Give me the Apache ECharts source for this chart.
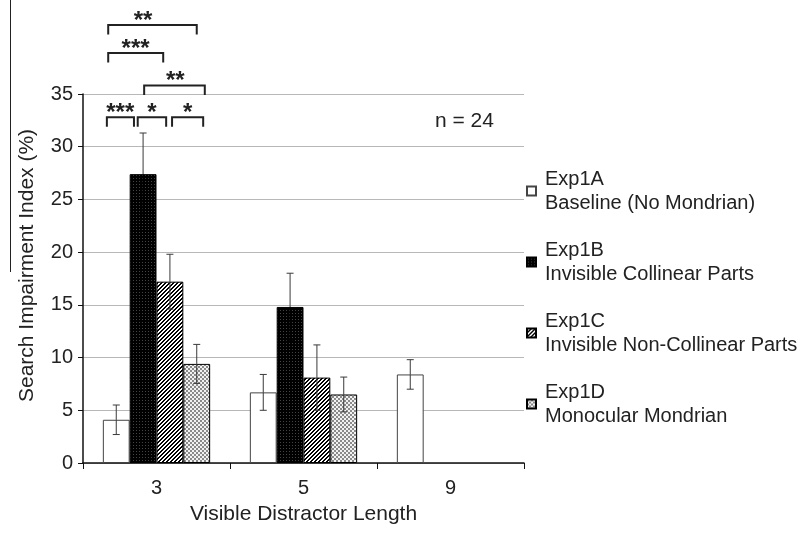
<!DOCTYPE html>
<html>
<head>
<meta charset="utf-8">
<script src="https://cdn.jsdelivr.net/npm/echarts@6/dist/echarts.min.js"></script>
<style>
  html, body { margin: 0; padding: 0; background: #fff; }
  #chart { width: 809px; height: 533px; }
</style>
</head>
<body>
<div id="chart"></div>
<script>
// ---- data ----
const categories = ['3', '5', '9'];
const seriesNames = ['Exp1A', 'Exp1B', 'Exp1C', 'Exp1D'];
const seriesDescriptions = ['Baseline (No Mondrian)', 'Invisible Collinear Parts', 'Invisible Non-Collinear Parts', 'Monocular Mondrian'];
const exp1A = [4.1, 6.7, 8.4];
const exp1B = [27.4, 14.8, null];
const exp1C = [17.2, 8.1, null];
const exp1D = [9.4, 6.5, null];
const errA = [1.4, 1.7, 1.4];
const errB = [3.9, 3.2, null];
const errC = [2.6, 3.1, null];
const errD = [1.85, 1.65, null];
const yTicks = [0, 5, 10, 15, 20, 25, 30, 35];
const sampleNote = 'n = 24';
// significance brackets (all within category "3")
const sigStars = ['***', '*', '*', '**', '***', '**'];
const sigLevel = [32.8, 32.8, 32.8, 35.8, 38.9, 41.55];
// bracket ends / label, in bar-slot units (0 = first bar centre)
const sigLeft  = [-0.35, 0.8, 2.08, 1.04, -0.3, -0.3];
const sigRight = [0.66, 1.86, 3.24, 3.3, 1.75, 3.0];
const sigLabel = [0.15, 1.33, 2.66, 2.2, 0.72, 1.0];

// ---- patterns ----
function makePattern(size, draw) {
  const c = document.createElement('canvas');
  c.width = size; c.height = size;
  const ctx = c.getContext('2d');
  draw(ctx, size);
  return { image: c, repeat: 'repeat' };
}
const dotPattern = makePattern(3, (ctx) => {
  ctx.fillStyle = '#000'; ctx.fillRect(0, 0, 3, 3);
  ctx.fillStyle = '#444'; ctx.fillRect(1, 1, 1, 1);
});
const hatchPattern = makePattern(4, (ctx, s) => {
  ctx.fillStyle = '#fff'; ctx.fillRect(0, 0, s, s);
  ctx.fillStyle = '#000';
  for (let x = 0; x < s; x++) for (let y = 0; y < s; y++) {
    const m = (x + y) % 4;
    if (m === 3 || m === 0) ctx.fillRect(x, y, 1, 1);
  }
});
const checkPattern = makePattern(4, (ctx) => {
  ctx.fillStyle = '#f2f2f2'; ctx.fillRect(0, 0, 4, 4);
  ctx.fillStyle = '#8a8a8a'; ctx.fillRect(0, 0, 2, 2); ctx.fillRect(2, 2, 2, 2);
});

const values = [exp1A, exp1B, exp1C, exp1D];
const errs = [errA, errB, errC, errD];
const fills = ['#ffffff', dotPattern, hatchPattern, checkPattern];
const borders = ['#444', '#000', '#000', '#000'];
const errLowerColors = ['#3a3a3a', '#000', '#3a3a3a', '#3a3a3a'];
const CAT_GAP = 0.27;
const FONT = '"Liberation Sans", Arial, sans-serif';

const chart = echarts.init(document.getElementById('chart'), null, { renderer: 'canvas' });

const barSeries = seriesNames.map((name, i) => ({
  name: name,
  type: 'bar',
  data: values[i],
  barGap: '0%',
  barCategoryGap: (CAT_GAP * 100) + '%',
  itemStyle: { color: fills[i], borderColor: borders[i], borderWidth: 1 },
  emphasis: { disabled: true },
  animation: false
}));

// error bar data: [catIndex, value, err, seriesIndex]
const errData = [];
values.forEach((vals, si) => vals.forEach((v, ci) => {
  if (v != null && errs[si][ci] != null) errData.push([ci, v, errs[si][ci], si]);
}));

function slotX(api, cat, slot) {
  const c = api.coord([cat, 0]);
  const band = api.size([1, 0])[0];
  const bw = band * (1 - CAT_GAP) / 4;
  const left = c[0] - band * (1 - CAT_GAP) / 2;
  return left + (slot + 0.5) * bw;
}

const errSeries = {
  type: 'custom',
  name: 'err',
  data: errData,
  encode: { x: 0, y: 1 },
  clip: false,
  z: 5,
  animation: false,
  silent: true,
  renderItem: function (params, api) {
    const cat = api.value(0), v = api.value(1), e = api.value(2), si = api.value(3);
    const x = slotX(api, cat, si);
    const yt = api.coord([cat, v + e])[1];
    const ym = api.coord([cat, v])[1];
    const yb = api.coord([cat, v - e])[1];
    const cap = 3.5;
    const st = { stroke: '#3a3a3a', lineWidth: 1 };
    const stLow = { stroke: errLowerColors[si], lineWidth: 1 };
    return {
      type: 'group',
      children: [
        { type: 'line', shape: { x1: x, y1: yt, x2: x, y2: ym }, style: st },
        { type: 'line', shape: { x1: x, y1: ym, x2: x, y2: yb }, style: stLow },
        { type: 'line', shape: { x1: x - cap, y1: yt, x2: x + cap, y2: yt }, style: st },
        { type: 'line', shape: { x1: x - cap, y1: yb, x2: x + cap, y2: yb }, style: stLow }
      ]
    };
  }
};

const sigData = sigStars.map((s, i) => [0, sigLevel[i], i]);
const sigSeries = {
  type: 'custom',
  name: 'sig',
  data: sigData,
  encode: { x: 0, y: 1 },
  clip: false,
  z: 6,
  animation: false,
  silent: true,
  renderItem: function (params, api) {
    const i = api.value(2);
    const y = api.coord([0, api.value(1)])[1];
    const xl = slotX(api, 0, sigLeft[i]);
    const xr = slotX(api, 0, sigRight[i]);
    const xm = slotX(api, 0, sigLabel[i]);
    const leg = 9.5;
    return {
      type: 'group',
      children: [
        { type: 'polyline', shape: { points: [[xl, y + leg], [xl, y], [xr, y], [xr, y + leg]] },
          style: { stroke: '#222', lineWidth: 2, fill: null } },
        { type: 'text', style: { text: sigStars[i], x: xm, y: y - 4, align: 'center', verticalAlign: 'middle',
          font: 'bold 24px ' + FONT, fill: '#222' } }
      ]
    };
  }
};

chart.setOption({
  animation: false,
  backgroundColor: '#fff',
  grid: { left: 83, right: 285, top: 94, bottom: 70, containLabel: false },
  legend: {
    data: seriesNames,
    orient: 'vertical',
    left: 521,
    top: 162,
    itemWidth: 9,
    itemHeight: 9,
    itemGap: 23,
    icon: 'rect',
    selectedMode: false,
    formatter: function (name) {
      return name + '\n' + seriesDescriptions[seriesNames.indexOf(name)];
    },
    textStyle: { fontFamily: FONT, fontSize: 20, lineHeight: 24, color: '#222', padding: [0, 0, 0, 4] }
  },
  xAxis: {
    type: 'category',
    data: categories,
    name: 'Visible Distractor Length',
    nameLocation: 'middle',
    nameGap: 41,
    nameTextStyle: { fontFamily: FONT, fontSize: 21, color: '#222' },
    axisLine: { lineStyle: { color: '#111', width: 1.5 } },
    axisTick: { show: true, length: 6, lineStyle: { color: '#111' } },
    axisLabel: { fontFamily: FONT, fontSize: 20, color: '#222', margin: 15 },
    splitLine: { show: false }
  },
  yAxis: {
    type: 'value',
    min: 0,
    max: 35,
    interval: 5,
    name: 'Search Impairment Index (%)',
    nameLocation: 'middle',
    nameGap: 45,
    nameTextStyle: { fontFamily: FONT, fontSize: 21, color: '#222', padding: [0, 0, 0, 26] },
    axisLine: { show: true, lineStyle: { color: '#111', width: 1.5 } },
    axisTick: { show: true, length: 5, lineStyle: { color: '#111' } },
    axisLabel: { fontFamily: FONT, fontSize: 20, color: '#222', margin: 10,
      formatter: function (v) { return yTicks.indexOf(v) >= 0 ? String(v) : ''; } },
    splitLine: { show: true, lineStyle: { color: '#b8b8b8', width: 1 } }
  },
  graphic: [
    { type: 'text', left: 435, top: 111, style: { text: sampleNote, font: '21px ' + FONT, fill: '#222' } },
    { type: 'line', shape: { x1: 10.5, y1: 0, x2: 10.5, y2: 272 }, style: { stroke: '#222', lineWidth: 1 } }
  ],
  series: barSeries.concat([errSeries, sigSeries])
});
</script>
</body>
</html>
